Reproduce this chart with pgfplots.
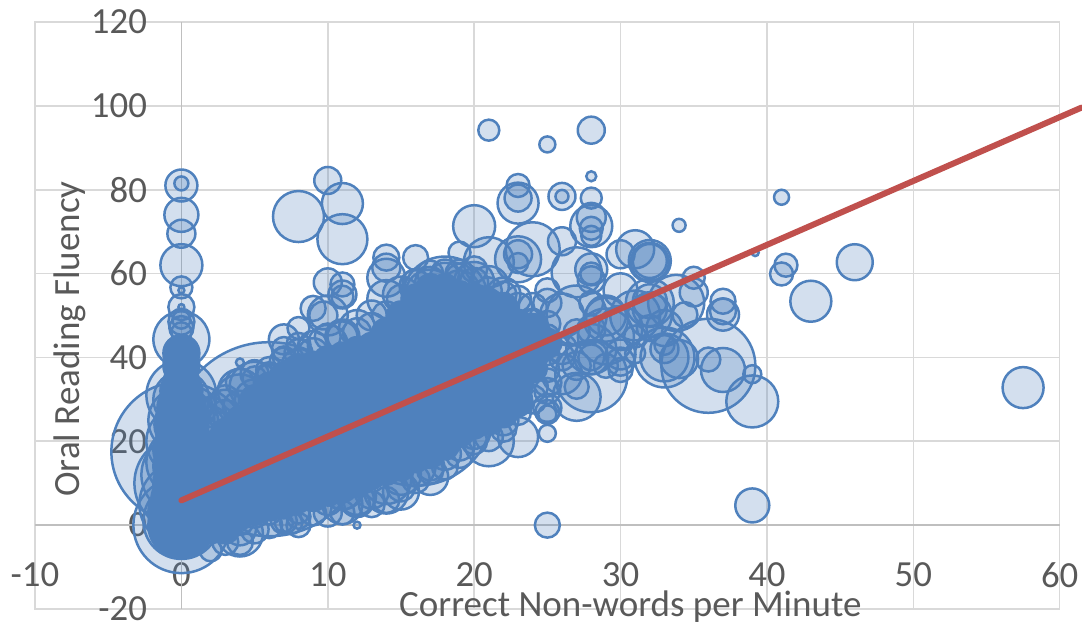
\documentclass[border=0pt]{standalone}
\usepackage{pgfplots}
\pgfplotsset{compat=1.18}
\usepackage{fontspec}
\setmainfont{Carlito}
\definecolor{bub}{HTML}{4F81BD}
\definecolor{trend}{HTML}{C0504D}
\definecolor{gridc}{HTML}{D9D9D9}
\definecolor{zeroc}{HTML}{BFBFBF}
\definecolor{txt}{HTML}{595959}
\begin{document}
\begin{tikzpicture}
\path[use as bounding box] (0,0) rectangle (541pt,312.5pt);
\begin{axis}[
  at={(17.5pt,8pt)}, anchor=south west,
  scale only axis, width=512.35pt, height=293.5pt,
  xmin=-10, xmax=60, ymin=-20, ymax=120,
  xtick={-10,0,...,60}, ytick={-20,0,...,120},
  extra x ticks={0}, extra x tick labels={}, extra y ticks={0}, extra y tick labels={},
  extra tick style={grid style={zeroc,line width=0.8pt}},
  major tick length=0pt, grid=major,
  grid style={gridc,line width=0.8pt},
  axis line style={gridc,line width=0.8pt},
  clip=false, clip mode=individual,
  tick label style={font=\fontsize{18.4}{20}\selectfont,text=txt},
  /pgf/number format/assume math mode=true,
  xticklabel style={anchor=center,yshift=17pt},
  yticklabel style={anchor=east,xshift=59.5pt},
  xlabel={Correct Non-words per Minute},
  xlabel style={at={(axis description cs:0.581,0.004)},anchor=center,font=\fontsize{18.5}{20}\selectfont,text=txt},
  ylabel={Oral Reading Fluency},
  ylabel style={at={(axis description cs:0.034,0.46)},anchor=center,rotate=0,font=\fontsize{18.5}{20}\selectfont,text=txt},
  bubble/.style={scatter,only marks,mark=*,
    scatter/use mapped color={draw=bub,fill=bub,fill opacity=#1,line width=1.25pt},
    visualization depends on={\thisrow{r}/2 \as \perpointmarksize},
    scatter/@pre marker code/.append style={/tikz/mark size=\perpointmarksize}},
]
% open bubbles
\addplot[bubble=0.25] table[x=x,y=y,row sep=\\] {
x y r\\
0 17.5 70\\ 6 20.5 97\\ 16 28 78\\ 0 10 47\\ 0 0 48\\ 0 1 38\\ 0 31 35\\ 0 30 28\\ 0 44.3 28\\ 18 53.8 43\\
0 5 42\\ 0 12 40\\ 0 15 35\\ 0 20 35\\ 0 25 33\\ 27 50 30\\ 29 45 28\\ 31 50 25\\ 26 50 22\\ 28 42 25\\ 30 47 22\\ 26 36 20\\ 33 47 18\\
36 38 47\\ 39 29.5 26\\ 39 4.7 17\\ 57.5 32.8 20.5\\ 39 36 9\\ 37 37 22\\ 36 39.5 12\\
46 62.7 18\\ 43 53.4 20.5\\ 41 59.9 11.5\\ 41.3 62 11.5\\ 41 78.2 7.5\\ 39.2 65 3.5\\ 34 71.5 6.5\\
37 53.4 12.5\\ 37 50.2 16\\ 37 51 13\\ 34.4 50.2 12.5\\ 35 59 11\\ 35 55.5 14\\ 33.8 53 28\\
21 94.2 10.5\\ 25 90.8 8\\ 28 94.2 13.5\\ 28 83.2 5\\ 28 78 10.5\\ 28 71.3 21\\ 28 73.4 14.5\\ 28 70.8 11.5\\ 28 69 10\\
26 78.4 13.5\\ 26 78.4 6.5\\ 23 81 11.5\\ 23 76.8 20.5\\ 23 78 13.5\\ 20 71.3 21\\
10 82.2 13.5\\ 11 76.7 20.5\\ 11 68.2 25\\ 8 73.6 25.5\\ 10 57.9 14\\ 11 55 14\\ 11 57.4 12\\ 11 54.5 11\\ 9 51.7 12.5\\ 10 50 20\\ 9.7 50 14\\ 8 47 11\\ 7 44.3 15\\
0 81.5 7\\ 0 81 16\\ 0 74 17\\ 0 69.5 14\\ 0 62 21\\ 0 56.7 11\\ 0 56 3\\ 0 52 13\\ 0 52 3\\ 0 48.5 13\\ 0 47 12\\ 0 46 10\\ 0 49 9\\
14 63.8 13\\ 14 61.4 14\\ 14 59 19\\ 14 53.9 19\\ 16 63.8 12.5\\ 19 65 11\\ 20 61 13\\ 21 62.7 25\\ 23 63.4 23\\ 23 64.6 14\\ 23 62.5 10\\
24 65.8 27\\ 26 67.7 14\\ 27 60.3 25\\ 28 61 16\\ 28 60 11\\ 28 58.5 13.5\\ 30 64.6 14\\ 31 65.8 19\\ 32 63 21\\ 32 62.8 19\\ 32 63 17\\
32 53.4 17\\ 32 53 24\\ 28 53 12\\ 30 56 17\\ 29 50 20\\ 28 46.7 14\\ 25 53 14\\ 25 56 12\\ 17 55 25\\ 19 56 20\\
25 0 12.5\\ 25 21.9 8.5\\ 25 26.4 9\\ 25 27 12\\ 25 28 14\\ 23 21 20\\ 21 20 25\\ 27 30.6 24\\ 27 33 12\\ 28 35.5 36\\
28 40 13\\ 28 40 17\\ 27 38 14\\ 30 40.7 15\\ 30 39 14\\ 30 37 12\\ 33 40 30\\ 33 40 24\\ 33 42 14\\ 33 43 10\\ 34 39.6 19\\ 31 45 11\\ 32 51.5 17\\ 32 50 22\\ 32 47 13\\ 29 49 22\\ 27 46 13\\ 26 42 15\\ 29 38 12\\ 31 41 10\\
3 28 18\\ 4 30 25\\ 4 38.8 4\\ 4 32 22\\ 5 33 25\\ 5 30 20\\ 6 35 14\\ 6 36 12\\ 7 40 11\\ 8 41 14\\ 8 38 17\\ 9 41 15\\ 10 43 20\\ 11 45 17\\ 12 47 18\\ 13 50 15\\ 15 55 18\\ 16 57 16\\ 17 58 15\\ 18 59 15\\ 19 60 14\\ 20 58 20\\ 21 57 20\\ 22 55 17\\ 23 52 14\\ 24 48 14\\ 25 45 12\\ 24 40 14\\ 25 34 14\\ 24 33 15\\ 23 30 14\\ 22 25 15\\ 21 26 15\\ 20 22 16\\ 19 19 15\\ 18 17 16\\ 17 14 14\\ 16 14 20\\ 15 12 20\\ 14 11 25\\ 13 8 17\\ 12 6 17\\ 12 0 3.5\\ 11 5 20\\ 10 6 15\\ 11 3 12\\ 9 7 15\\ 8 0 12\\ 7.5 0.5 11\\ 8 2 12\\ 7 0.5 9\\ 7 4 10\\ 6 3 12\\ 5 3 15\\ 4 -2 23\\ 4 -1 16\\ 4 1 14\\ 3 2 15\\ 12 7 19\\ 11 9 22\\ 11 8 18\\ 15 8 18\\ 14 8 22\\ 17 11.5 18\\
3 26 16\\ 3 30 14\\ 2 27 15\\ 2 24 18\\ 1 28 20\\ 1 25 22\\ 4 28 17\\ 4 34 14\\ 5 35 12\\ 5 36 14\\ 6 37 13\\ 7 39 14\\ 7 42 12\\ 8 43 12\\ 9 43 14\\ 10 45 13\\ 11 45 15\\ 12 46 14\\ 13 47 15\\ 14 50 14\\ 15 54 14\\ 16 58 13\\ 17 60 13\\ 18 60 14\\ 19 59 14\\ 20 58 14\\ 21 56 13\\ 22 55 13\\ 23 54 13\\ 24 52 14\\ 25 48 13\\ 24 49 11\\ 25 41 12\\ 26 40 13\\ 25 37 12\\ 25 32 13\\ 24 30 14\\ 23 27 13\\ 22 23 13\\ 21 21 14\\ 20 20 13\\ 19 17 14\\ 18 14 13\\ 17 13 13\\ 16 11 14\\ 15 9 14\\ 14 6 13\\ 13 5 13\\ 12 5 13\\ 10 3 14\\ 9 3 13\\ 8 3 11\\ 7 1 13\\ 6 0 13\\ 5 -1 14\\ 4 -4 13\\ 3 -4 13\\ 2 -6 11\\
};
% dense core of overlapping bubbles
\addplot[bubble=1] table[x=x,y=y,row sep=\\] {
x y r\\
0 0 33\\ 0 3 33\\ 0 6 30\\ 0 10 28\\ 0 14 28\\ 0 18 28\\ 0 22 25\\ 0 24 27\\ 0 26 20\\ 0 28 24\\ 0 30 19\\ 0 32 21\\ 0 34 18\\ 0 38 18\\ 0 41 18\\
1 -2 14\\ 1 2 16\\ 1 6 15\\ 1 10 14\\ 1 14 15\\ 1 17 14\\
2 -1 14\\ 2 3 14\\ 2 7 15\\ 2 11 14\\ 2 15 14\\ 2 19 14\\
3 -1 14\\ 3 2 14\\ 3 6 14\\ 3 10 15\\ 3 14 14\\ 3 18 14\\ 3 22 14\\
4 2.3 14\\ 4 5 14\\ 4 9 15\\ 4 13 14\\ 4 17 14\\ 4 21 14\\ 4 25 14\\
5 3.5 14\\ 5 6 14\\ 5 10 14\\ 5 14 15\\ 5 18 14\\ 5 22 14\\ 5 25 14\\ 5 28 14\\ 5 30 14\\
6 4.5 14\\ 6 7 14\\ 6 11 14\\ 6 15 15\\ 6 19 14\\ 6 23 14\\ 6 26 14\\ 6 29 14\\ 6 33 14\\
7 5.4 14\\ 7 8 14\\ 7 12 14\\ 7 16 15\\ 7 20 14\\ 7 24 14\\ 7 28 14\\ 7 31 14\\ 7 35.5 14\\
8 6.4 14\\ 8 9.5 14\\ 8 13 14\\ 8 17 15\\ 8 21 14\\ 8 25 14\\ 8 29 14\\ 8 32 14\\ 8 35.5 14\\ 8 37.4 14\\
9 7 14\\ 9 11 14\\ 9 15 14\\ 9 19 15\\ 9 23 14\\ 9 27 14\\ 9 31 14\\ 9 34 14\\ 9 38 14\\
10 8 14\\ 10 12 14\\ 10 16 14\\ 10 20 15\\ 10 24 14\\ 10 28 14\\ 10 32 14\\ 10 36 14\\ 10 39.3 14\\
11 8.8 14\\ 11 12.5 14\\ 11 17 14\\ 11 21 15\\ 11 25 14\\ 11 29 14\\ 11 33 14\\ 11 37 14\\ 11 40.2 14\\
12 10 14\\ 12 13 14\\ 12 17 14\\ 12 21 15\\ 12 25 14\\ 12 30 14\\ 12 35 14\\ 12 39 14\\ 12 41.5 14\\
13 12 14\\ 13 14 14\\ 13 18 14\\ 13 23 15\\ 13 28 14\\ 13 33 14\\ 13 37 14\\ 13 41 14\\ 13 42.5 14\\
14 13 14\\ 14 14 14\\ 14 19 14\\ 14 24 15\\ 14 29 14\\ 14 34 14\\ 14 38 14\\ 14 42 14\\ 14 46 14\\
15 14 14\\ 15 15 14\\ 15 20 14\\ 15 25 15\\ 15 30 14\\ 15 35 14\\ 15 40 14\\ 15 45 14\\ 15 50 14\\
16 16 14\\ 16 17 14\\ 16 22 14\\ 16 27 15\\ 16 32 14\\ 16 37 14\\ 16 42 14\\ 16 46 14\\ 16 49 14\\ 16 52 14\\ 16 54 14\\
17 17 14\\ 17 18 14\\ 17 23 14\\ 17 28 15\\ 17 33 14\\ 17 38 14\\ 17 43 14\\ 17 47 14\\ 17 51 14\\ 17 54 14\\ 17 56.5 14\\
18 19 14\\ 18 24 14\\ 18 29 15\\ 18 34 14\\ 18 39 14\\ 18 44 14\\ 18 49 14\\ 18 53 14\\ 18 56.5 14\\
19 22 14\\ 19 27 14\\ 19 32 15\\ 19 37 14\\ 19 42 14\\ 19 47 14\\ 19 51 14\\ 19 54.8 14\\
20 24 14\\ 20 29 14\\ 20 34 15\\ 20 39 14\\ 20 44 14\\ 20 49 14\\ 20 54 14\\
21 25 14\\ 21 27 14\\ 21 32 14\\ 21 37 15\\ 21 42 14\\ 21 47 14\\ 21 50 14\\ 21 53 14\\
22 26.7 14\\ 22 30 14\\ 22 35 14\\ 22 40 15\\ 22 45 14\\ 22 49 14\\ 22 52 14\\
23 29.3 14\\ 23 32.5 14\\ 23 36 14\\ 23 40 14\\ 23 44 14\\ 23 48 14\\
24 37.4 14\\ 24 40 14\\ 24 43 14\\ 24 45 14\\ 24 47 14\\
25 43.5 14\\
};
\addplot[trend,line width=3pt,line cap=round,no marks] coordinates {(0,5.9) (61.5,99.6)};
\end{axis}
\end{tikzpicture}
\end{document}
